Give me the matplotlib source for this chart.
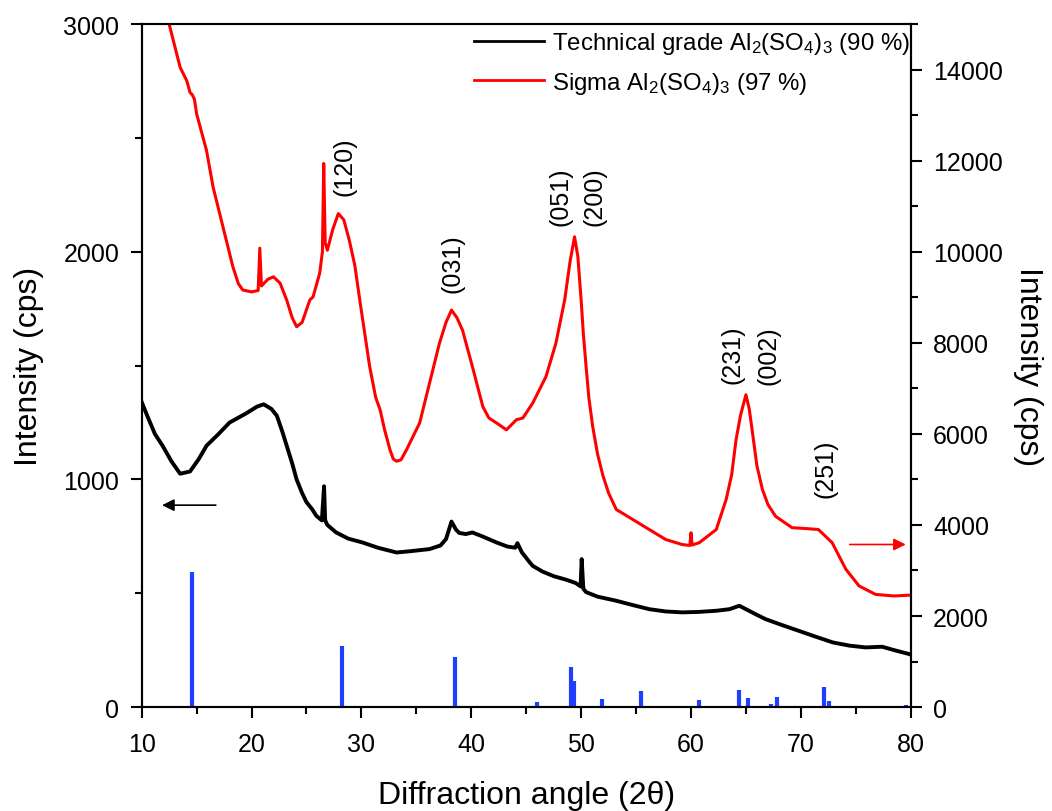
import numpy as np
import matplotlib.pyplot as plt
from matplotlib.lines import Line2D
from matplotlib.ticker import MultipleLocator

plt.rcParams['font.family'] = ['Liberation Sans', 'DejaVu Sans']
plt.rcParams['mathtext.default'] = 'regular'

# technical grade sample (left axis, cps)
tech_x = [10, 10.5, 11.2, 11.9, 12.7, 13.5, 14.4, 15.2, 15.9, 17.0, 18.0, 19.5, 20.5, 21.1,
          21.8, 22.3, 22.8, 23.2, 23.7, 24.1, 24.6, 25.0, 25.5, 25.9, 26.4, 26.6, 26.7, 26.9,
          27.7, 28.8, 30.1, 31.5, 33.2, 34.5, 36.2, 37.2, 37.7, 38.2, 38.6, 38.9, 39.5, 40.1,
          41.0, 42.3, 43.3, 44.0, 44.2, 44.6, 45.3, 45.6, 46.5, 47.5, 48.6, 49.5, 49.95, 50.05,
          50.2, 50.45, 51.5, 53.2, 54.7, 56.2, 57.7, 59.2, 60.7, 62.3, 63.5, 64.4, 65.2, 66.0,
          66.8, 68.3, 69.8, 71.3, 72.9, 74.4, 75.9, 77.4, 78.5, 79.85, 80]
tech_y = [1340, 1280, 1200, 1148, 1080, 1025, 1035, 1090, 1148, 1200, 1250, 1290, 1320, 1330,
          1310, 1280, 1210, 1148, 1070, 1000, 940, 900, 870, 840, 820, 970, 820, 800,
          767, 740, 723, 700, 679, 685, 694, 710, 738, 815, 780, 765, 760, 767,
          750, 723, 705, 700, 720, 680, 637, 620, 595, 575, 560, 545, 530, 650,
          520, 505, 485, 467, 448, 430, 420, 416, 418, 423, 430, 445, 425, 405,
          386, 360, 335, 310, 284, 270, 262, 265, 250, 233, 230]

# Sigma sample (right axis, cps)
sigma_x = [10, 11.5, 12.5, 13.5, 14.1, 14.4, 14.6, 14.8, 15.0, 15.9, 16.5, 17.4, 18.3, 18.8,
           19.2, 20.0, 20.6, 20.75, 20.9, 21.5, 22.0, 22.6, 23.2, 23.7, 24.1, 24.6, 25.3, 25.6,
           26.2, 26.45, 26.57, 26.7, 26.9, 27.4, 27.9, 28.4, 28.9, 29.4, 29.85, 30.75, 31.3, 31.7,
           32.1, 32.6, 32.9, 33.2, 33.6, 34.1, 35.3, 36.2, 37.1, 37.7, 38.2, 38.7, 39.2, 40.1,
           41.05, 41.6, 42.3, 43.2, 44.1, 44.7, 45.6, 46.8, 47.7, 48.5, 49.0, 49.4, 49.7, 50.0,
           50.2, 50.45, 50.7, 51.05, 51.5, 52.0, 52.5, 53.2, 54.7, 56.2, 57.7, 59.2, 59.9, 60.0,
           60.1, 60.75, 62.3, 63.2, 63.7, 64.1, 64.5, 65.0, 65.3, 65.6, 66.0, 66.5, 67.0, 67.7,
           69.2, 70.5, 71.6, 72.85, 74.1, 75.3, 76.8, 78.5, 80]
sigma_y = [17500, 16000, 15000, 14050, 13760, 13500, 13450, 13350, 13030, 12225, 11420, 10545, 9670, 9300,
           9160, 9120, 9150, 10080, 9250, 9400, 9450, 9310, 8940, 8550, 8355, 8450, 8940, 9010,
           9530, 10000, 11940, 10200, 10035, 10500, 10840, 10700, 10250, 9700, 8940, 7480, 6800, 6530,
           6100, 5650, 5450, 5400, 5430, 5650, 6240, 7115, 7990, 8450, 8720, 8550, 8280, 7480,
           6600, 6350, 6240, 6090, 6310, 6350, 6680, 7260, 7990, 8940, 9800, 10330, 9900, 8940,
           8200, 7480, 6800, 6165, 5550, 5070, 4700, 4340, 4120, 3900, 3680, 3570, 3550, 3830,
           3560, 3610, 3900, 4560, 5100, 5870, 6400, 6860, 6550, 6020, 5300, 4780, 4450, 4190,
           3940, 3920, 3900, 3610, 3025, 2660, 2475, 2440, 2460]

# reference stick pattern (left axis)
ref_x = [14.55, 28.27, 38.48, 46.0, 49.09, 49.39, 51.87, 55.45, 60.75, 64.33, 65.2, 67.27,
         67.87, 72.1, 72.57, 79.55]
ref_y = [595, 268, 220, 24, 176, 115, 35, 71, 29, 76, 40, 13, 45, 87, 25, 9]

# reflection labels: text, x, y (left axis)
hkl = [("(120)", 28.5, 2380), ("(031)", 38.3, 1950), ("(051)", 48.1, 2245),
       ("(200)", 51.2, 2245), ("(231)", 63.8, 1550), ("(002)", 67.1, 1550),
       ("(251)", 72.2, 1052)]

fig = plt.figure(figsize=(10.52, 8.12), dpi=100)
ax = fig.add_axes([0.1347, 0.128, 0.731, 0.841])
ax2 = ax.twinx()

ax.vlines(ref_x, 0, ref_y, color='#1f3fff', lw=3)
ax.plot(tech_x, tech_y, color='black', lw=2.8)
ax2.plot(sigma_x, sigma_y, color='#ff0000', lw=2.2)

ax.set_xlim(10, 80)
ax.set_ylim(0, 3000)
ax2.set_ylim(0, 15000)

for t, x, y in hkl:
    ax.text(x, y, t, rotation=90, ha='center', va='center', fontsize=18)

ax.annotate('', xy=(11.6, 887), xytext=(17.0, 887),
            arrowprops=dict(arrowstyle='-|>', color='black', lw=1.2, mutation_scale=18))
ax2.annotate('', xy=(79.8, 3571), xytext=(74.2, 3571),
             arrowprops=dict(arrowstyle='-|>', color='#ff0000', lw=1.2, mutation_scale=18))

ax.set_xlabel('Diffraction angle (2θ)', fontsize=23, labelpad=17)
ax.set_ylabel('Intensity (cps)', fontsize=23, labelpad=14)
ax2.set_ylabel('Intensity (cps)', fontsize=23, rotation=270, labelpad=29)

ax.xaxis.set_major_locator(MultipleLocator(10))
ax.xaxis.set_minor_locator(MultipleLocator(5))
ax.yaxis.set_major_locator(MultipleLocator(1000))
ax.yaxis.set_minor_locator(MultipleLocator(500))
ax2.yaxis.set_major_locator(MultipleLocator(2000))
ax2.yaxis.set_minor_locator(MultipleLocator(1000))

for a in (ax, ax2):
    for s in a.spines.values():
        s.set_linewidth(1.5)
    a.tick_params(which='major', length=8, width=1.5, labelsize=18, direction='out', pad=8)
    a.tick_params(which='minor', length=5, width=1.5, direction='out')
ax.tick_params(axis='x', which='major', pad=10)

handles = [Line2D([], [], color='black', lw=2), Line2D([], [], color='#ff0000', lw=2)]
labels = ['Technical grade Al$_2$(SO$_4$)$_3$ (90 %)', 'Sigma Al$_2$(SO$_4$)$_3$ (97 %)']
ax.legend(handles, labels, loc='upper left', bbox_to_anchor=(0.42, 1.005), frameon=False,
          fontsize=17.3, handlelength=2.9, handletextpad=0.35, labelspacing=0.55,
          borderaxespad=0)

fig.savefig('out.png', dpi=100)
